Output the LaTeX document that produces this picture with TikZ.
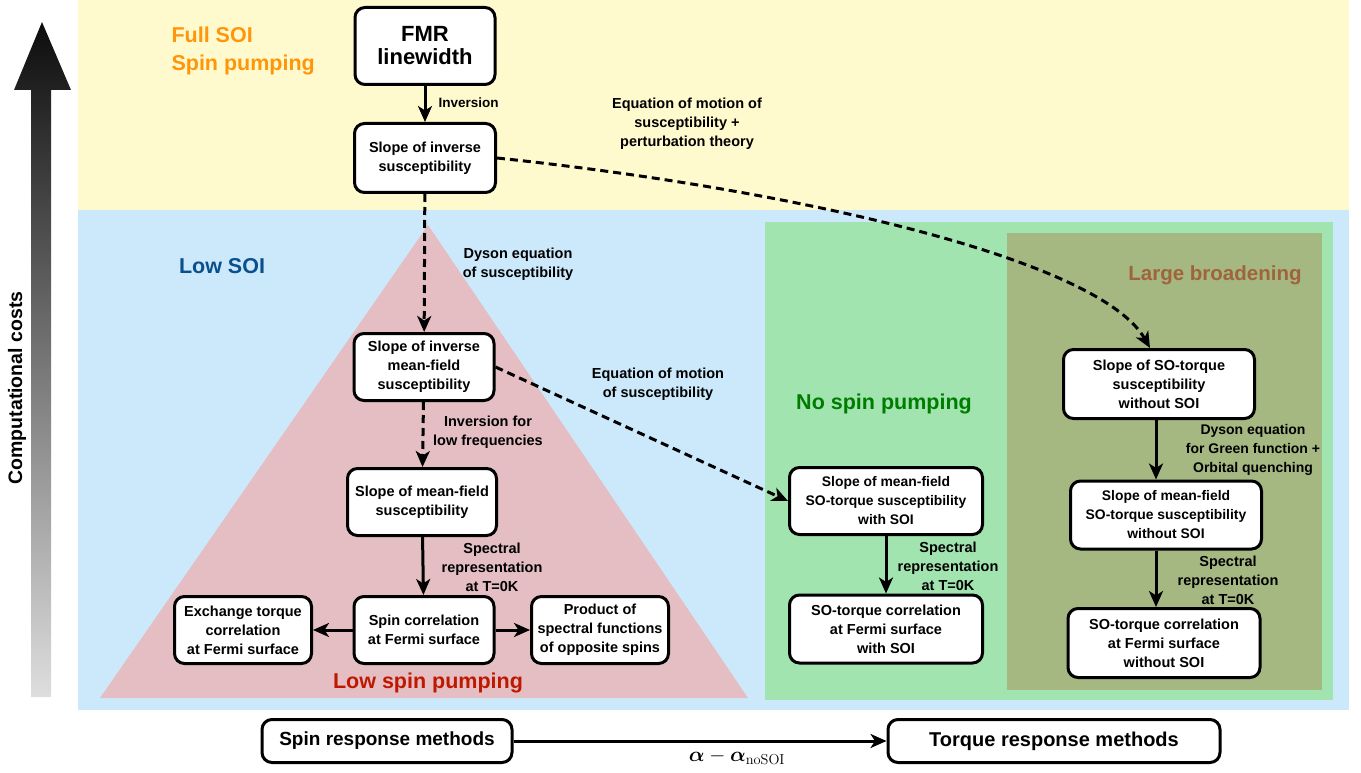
\documentclass[tikz,border=0pt]{standalone}
\usepackage{amsmath}
\usepackage[no-math]{fontspec}
\setmainfont{Liberation Sans}
\usetikzlibrary{arrows.meta,shadings}
\definecolor{yel}{RGB}{255,250,205}
\definecolor{blu}{RGB}{204,233,251}
\definecolor{pnk}{RGB}{228,190,195}
\definecolor{grn}{RGB}{162,228,176}
\definecolor{olv}{RGB}{165,184,130}
\definecolor{orng}{RGB}{255,150,10}
\definecolor{dblu}{RGB}{10,80,140}
\definecolor{dgrn}{RGB}{0,125,0}
\definecolor{brwn}{RGB}{160,100,60}
\definecolor{dred}{RGB}{190,25,0}
\begin{document}
\begin{tikzpicture}[x=1pt,y=-1pt,
 box/.style={draw,line width=3pt,rounded corners=10pt,fill=white,align=center,font=\bfseries\fontsize{14.5}{19}\selectfont,inner sep=0pt},
 sobox/.style={box,font=\bfseries\fontsize{13.9}{19}\selectfont},
 lbl/.style={align=center,font=\bfseries\fontsize{14.5}{19}\selectfont},
 ttl/.style={font=\bfseries\fontsize{21.5}{28}\selectfont},
 arr/.style={line width=3pt,-{Stealth[length=16pt,width=14pt,inset=4.5pt]}},
 darr/.style={arr,dash pattern=on 8pt off 5pt},
]
\useasboundingbox (0,0) rectangle (1361,773);
% backgrounds
\fill[yel] (78,0) rectangle (1349,210);
\fill[blu] (78,210) rectangle (1349,710);
\fill[pnk] (428,225) -- (748,698) -- (100,698) -- cycle;
\fill[grn] (765,222) rectangle (1333,700);
\fill[olv] (1007,233) rectangle (1322,690);
% computational costs arrow
\shade[top color=black!95, bottom color=black!13]
 (31,697) -- (31,90) -- (14,90) -- (42,22) -- (71,90) -- (51,90) -- (51,697) -- cycle;
\node[rotate=90,font=\bfseries\fontsize{19.5}{22}\selectfont] (cc) at (17,388) {Computational costs};
% titles
\node[ttl,text=orng,align=left,anchor=west] (full) at (168,51) {Full SOI\\Spin pumping};
\node[ttl,text=dblu] (lowsoi) at (222,266) {Low SOI};
\node[ttl,text=dgrn] (nosp) at (884,404) {No spin pumping};
\node[ttl,text=brwn,font=\bfseries\fontsize{20.5}{26}\selectfont] (lb) at (1215,275) {Large broadening};
\node[ttl,text=dred] (lsp) at (428,683) {Low spin pumping};
% boxes
\node[box,minimum width=140,minimum height=77,font=\bfseries\fontsize{22}{23}\selectfont] (fmr) at (425,46) {FMR\\linewidth};
\node[box,minimum width=141,minimum height=69] (psi) at (425,158) {Slope of inverse\\susceptibility};
\node[box,minimum width=140,minimum height=67] (imf) at (424,367) {Slope of inverse\\mean-field\\susceptibility};
\node[box,minimum width=149,minimum height=67] (mfs) at (422,502) {Slope of mean-field\\susceptibility};
\node[box,minimum width=140,minimum height=67] (sc) at (424,630) {Spin correlation\\at Fermi surface};
\node[box,minimum width=137,minimum height=67] (ex) at (243,630) {Exchange torque\\correlation\\at Fermi surface};
\node[box,minimum width=137,minimum height=67] (prod) at (600,630) {Product of\\spectral functions\\of opposite spins};
\node[sobox,minimum width=193,minimum height=67] (sotw) at (886,501) {Slope of mean-field\\SO-torque susceptibility\\with SOI};
\node[box,minimum width=193,minimum height=68] (socw) at (886,629) {SO-torque correlation\\at Fermi surface\\with SOI};
\node[box,minimum width=191,minimum height=69] (sots) at (1159,384) {Slope of SO-torque\\susceptibility\\without SOI};
\node[sobox,minimum width=191,minimum height=68] (mfsot) at (1166,515) {Slope of mean-field\\SO-torque susceptibility\\without SOI};
\node[box,minimum width=192,minimum height=69] (soco) at (1164,643) {SO-torque correlation\\at Fermi surface\\without SOI};
\node[box,minimum width=250,minimum height=43,font=\bfseries\fontsize{19}{22}\selectfont] (spin) at (387,741) {Spin response methods};
\node[box,minimum width=332,minimum height=43,font=\bfseries\fontsize{20}{22}\selectfont] (torq) at (1054,741) {Torque response methods};
% labels
\node[lbl,anchor=west,font=\bfseries\fontsize{13.5}{15}\selectfont] (l1) at (435,103) {Inversion};
\node[lbl] (l2) at (687,124) {Equation of motion of\\susceptibility +\\perturbation theory};
\node[lbl] (l3) at (518,264) {Dyson equation\\of susceptibility};
\node[lbl] (l4) at (658,384) {Equation of motion\\of susceptibility};
\node[lbl] (l5) at (488,432) {Inversion for\\low frequencies};
\node[lbl] (l6) at (492,567) {Spectral\\representation\\at T=0K};
\node[lbl] (l7) at (948,566) {Spectral\\representation\\at T=0K};
\node[lbl,font=\bfseries\fontsize{14}{19}\selectfont] (l8) at (1253,450) {Dyson equation\\for Green function +\\Orbital quenching};
\node[lbl] (l9) at (1228,580) {Spectral\\representation\\at T=0K};
\node[font=\fontsize{20}{22}\selectfont] (l10) at (737,757) {$\boldsymbol{\alpha}-\boldsymbol{\alpha}_{\mathrm{noSOI}}$};
% connectors
\draw[arr] (fmr) -- (psi);
\draw[darr] (psi) -- (imf);
\draw[darr] (imf) -- (mfs);
\draw[arr] (mfs) -- (sc);
\draw[arr] (sc) -- (ex);
\draw[arr] (sc) -- (prod);
\draw[darr] (imf.east) -- (sotw.west);
\draw[arr] (sotw) -- (socw);
\draw[arr] ([xshift=-3pt]sots.south) -- ([xshift=-3pt]sots.south |- mfsot.north);
\draw[arr] ([xshift=-3pt]sots.south |- mfsot.south) -- ([xshift=-3pt]sots.south |- soco.north);
\draw[darr] (psi.east) .. controls (800,190) and (1100,260) .. ([xshift=-9pt]sots.north);
\draw[arr] (spin) -- (torq);
\end{tikzpicture}
\end{document}
